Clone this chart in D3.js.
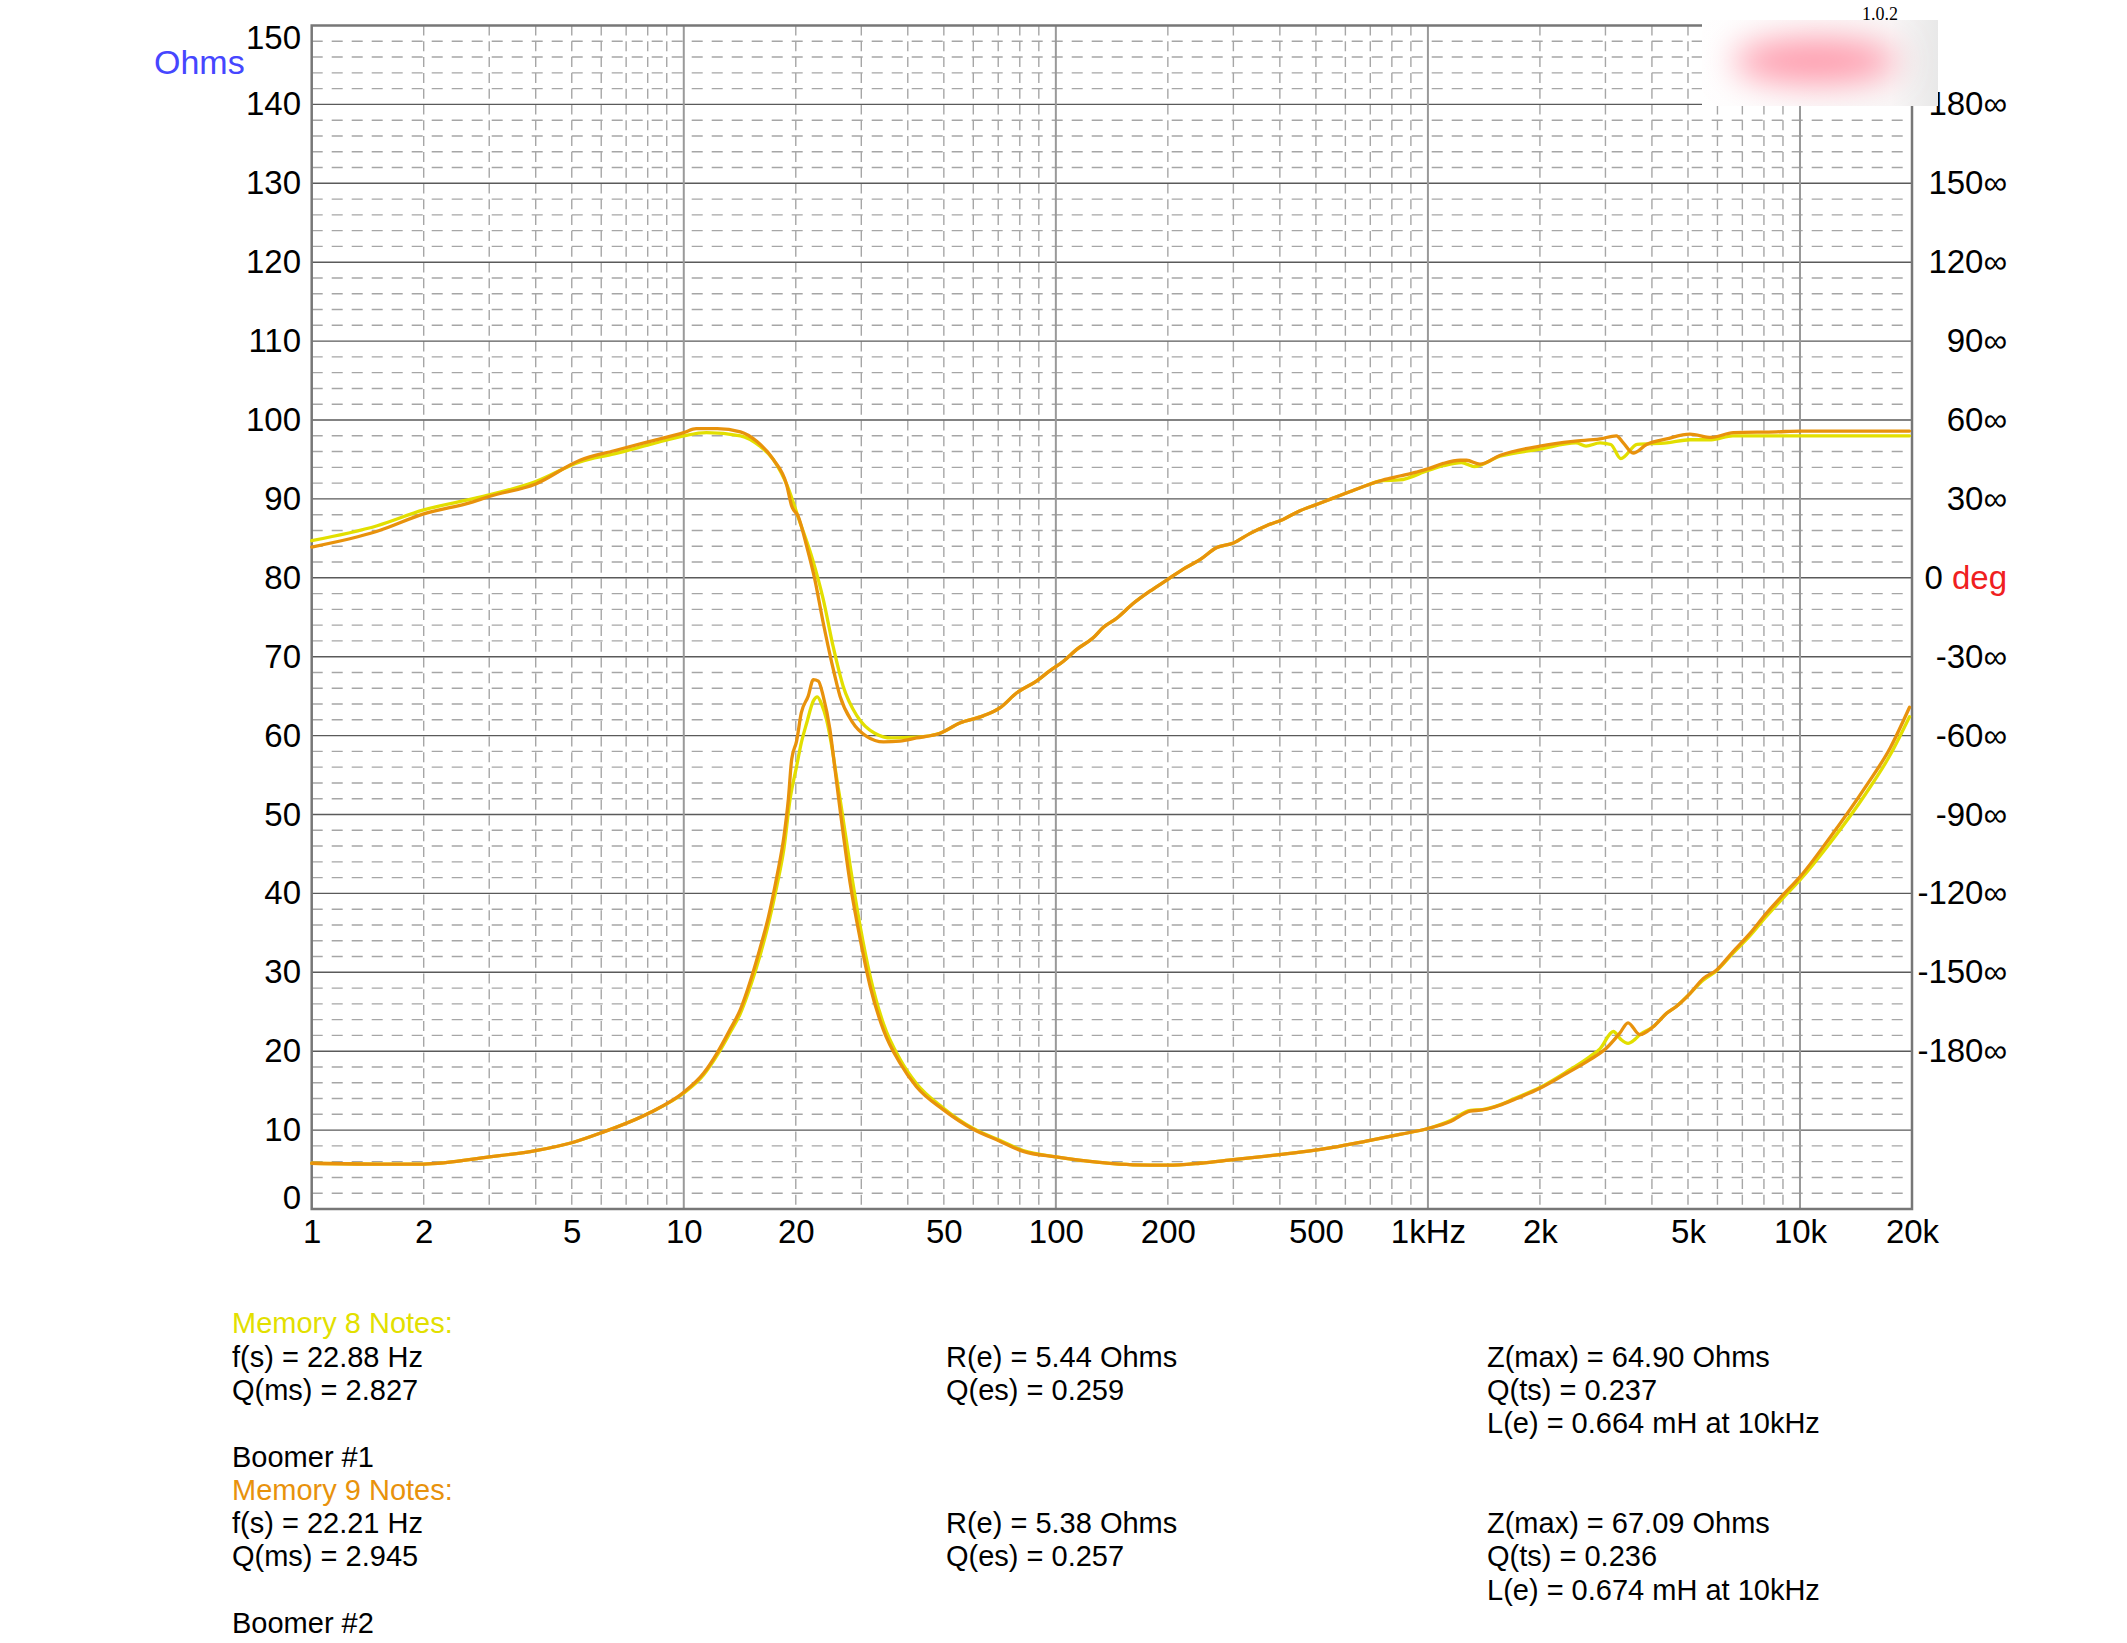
<!DOCTYPE html>
<html><head><meta charset="utf-8">
<script src="https://cdn.jsdelivr.net/npm/d3@7"></script>
<style>body{margin:0;background:#fff}svg{display:block}</style>
</head><body>
<svg id="chart" width="2127" height="1643"></svg>
<script>
// ---------------- data ----------------
const xTicks = [1,2,5,10,20,50,100,200,500,1000,2000,5000,10000,20000];
const xTickLabels = ["1","2","5","10","20","50","100","200","500","1kHz","2k","5k","10k","20k"];
const ohmTicks = [0,10,20,30,40,50,60,70,80,90,100,110,120,130,140,150];
const phaseTicks = [-180,-150,-120,-90,-60,-30,0,30,60,90,120,150,180];

// Memory 8 (yellow) impedance magnitude [Hz, Ohms]
const impedance8 = [[1,5.8],[1.5,5.7],[2,5.7],[3,6.6],[4,7.4],[5,8.4],[5.95,9.6],[8.1,12.2],[10,14.7],[11.3,17.0],[12.3,19.5],[13.3,22.3],[14.2,24.8],[15.1,28.2],[16.0,32.0],[16.9,36.2],[17.8,41.0],[18.6,45.8],[19.3,51.9],[20.1,56.1],[20.7,59.1],[21.4,61.6],[22.3,64.4],[22.85,64.9],[23.5,63.9],[24.2,62.0],[25.0,58.6],[25.8,54.4],[26.4,51.5],[28.0,43.5],[29.8,35.8],[31.7,29.5],[34.4,23.5],[38.1,19.0],[42.2,15.9],[49.8,12.8],[60,10.2],[70.7,8.7],[81.7,7.4],[100,6.6],[131,5.9],[161,5.6],[200,5.55],[244,5.8],[300,6.25],[368,6.7],[453,7.2],[556,7.8],[683,8.6],[840,9.45],[1000,10.2],[1150,11.2],[1300,12.5],[1400,12.6],[1560,13.2],[1690,13.9],[2000,15.4],[2360,17.4],[2720,19.3],[2900,20.3],[3150,22.5],[3300,21.5],[3450,21.0],[3600,21.5],[3710,22.1],[4030,23.1],[4380,24.8],[4660,25.7],[5060,27.3],[5490,29.0],[5970,30.2],[6600,32.4],[7330,34.6],[8130,37.1],[9000,39.4],[10000,41.7],[12000,46.3],[15000,52.6],[17500,57.6],[19700,62.4]];

// Memory 9 (orange) impedance magnitude [Hz, Ohms]
const impedance9 = [[1,5.8],[1.5,5.7],[2,5.7],[3,6.6],[4,7.4],[5,8.4],[5.95,9.6],[8.1,12.2],[10,14.8],[11.3,17.2],[12.3,19.8],[13.3,22.7],[14.2,25.3],[15.1,28.9],[16.0,32.9],[16.9,37.1],[17.8,42.2],[18.6,47.3],[19.1,51.9],[19.5,57.0],[20.1,59.3],[20.7,62.9],[21.6,65.0],[22.3,67.1],[23.0,66.9],[23.7,65.0],[24.7,60.8],[25.5,55.7],[26.1,51.9],[28.0,41.3],[29.8,34.2],[31.7,28.2],[34.4,22.7],[38.1,18.5],[42.2,15.5],[49.8,12.6],[60,10.1],[70.7,8.6],[81.7,7.3],[100,6.6],[131,5.9],[161,5.6],[200,5.55],[244,5.8],[300,6.25],[368,6.7],[453,7.2],[556,7.8],[683,8.6],[840,9.45],[1000,10.2],[1150,11.1],[1300,12.4],[1400,12.55],[1560,13.15],[1690,13.8],[2000,15.3],[2360,17.2],[2720,18.9],[3020,20.4],[3280,22.3],[3450,23.6],[3710,22.1],[4030,23.1],[4380,24.8],[4660,25.7],[5060,27.3],[5490,29.2],[5970,30.3],[6600,32.6],[7330,34.9],[8130,37.5],[9000,39.8],[10000,42.1],[12000,47.0],[15000,53.5],[17500,58.5],[19700,63.6]];

// Memory 8 (yellow) phase [Hz, degrees]
const phase8 = [[1,14.1],[1.5,19.8],[2,25.8],[2.7,30],[3,31.5],[4,36.6],[5.26,44.1],[6.5,47.1],[8.12,50.7],[10,54],[11.5,55.2],[14.2,54],[16.0,50.1],[17.4,45],[19.0,34.8],[20.4,22.2],[22.2,6.9],[23.7,-8.1],[25.2,-26.1],[26.8,-41.1],[29.2,-52.5],[32.6,-59.1],[36.2,-60.9],[42.2,-60.6],[48.8,-59.1],[55.2,-55.2],[63.8,-52.5],[70.7,-49.5],[78.4,-43.8],[88.7,-39.3],[96.3,-35.4],[104.6,-31.8],[113.6,-27.3],[126,-22.8],[134,-18.9],[146,-15.3],[161,-9.9],[179,-5.1],[200,-0.6],[220,3.3],[244,6.9],[270,11.4],[300,13.2],[332,16.8],[368,19.8],[408,22.2],[453,25.5],[502,27.9],[556,30.3],[616,32.7],[683,35.1],[757,37.0],[839,37.2],[1000,40.8],[1100,42.6],[1230,43.8],[1330,42.3],[1560,46.2],[2000,48.9],[2500,51.3],[2660,50.1],[2900,51.3],[3100,50.7],[3300,45.3],[3650,50.7],[4380,51.3],[5060,52.5],[5780,52.5],[6600,54],[8650,54],[19700,54]];

// Memory 9 (orange) phase [Hz, degrees]
const phase9 = [[1,11.7],[1.5,17.7],[2,24.3],[2.7,28.8],[3,30.9],[4,35.7],[5.26,44.7],[6.5,48.3],[8.12,51.9],[10,55.2],[10.8,56.7],[12.3,56.7],[14.2,55.5],[15.7,51.9],[17.4,45],[18.9,35.4],[19.5,27.3],[20.3,23.4],[21.4,12],[22.5,-0.6],[23.7,-17.1],[25,-32.4],[26.3,-45],[28.3,-54.6],[31,-60.3],[34.4,-62.4],[38.1,-62.1],[42.2,-60.9],[48.8,-59.1],[55.2,-55.2],[63.8,-52.5],[70.7,-49.5],[78.4,-43.8],[88.7,-39.3],[96.3,-35.4],[104.6,-31.8],[113.6,-27.3],[126,-22.8],[134,-18.9],[146,-15.3],[161,-9.9],[179,-5.1],[200,-0.6],[220,3.3],[244,6.9],[270,11.4],[300,13.2],[332,16.8],[368,19.8],[408,22.2],[453,25.5],[502,27.9],[556,30.3],[616,32.7],[683,35.1],[757,37.2],[840,38.7],[931,40.2],[1000,41.4],[1100,43.5],[1220,44.7],[1270,44.7],[1380,43.2],[1560,46.5],[2000,50.1],[2455,51.9],[2900,52.8],[3210,54],[3350,51.3],[3560,47.4],[3870,50.7],[4380,52.8],[5060,54.6],[5780,53.4],[6620,55.2],[8650,55.5],[10000,55.8],[19700,55.8]];

// notes text: [row, text, colour key]
const notesLeft = [[0,"Memory 8 Notes:","m8"],[1,"f(s) = 22.88 Hz"],[2,"Q(ms) = 2.827"],[4,"Boomer #1"],[5,"Memory 9 Notes:","m9"],[6,"f(s) = 22.21 Hz"],[7,"Q(ms) = 2.945"],[9,"Boomer #2"]];
const notesMid = [[1,"R(e) = 5.44 Ohms"],[2,"Q(es) = 0.259"],[6,"R(e) = 5.38 Ohms"],[7,"Q(es) = 0.257"]];
const notesRight = [[1,"Z(max) = 64.90 Ohms"],[2,"Q(ts) = 0.237"],[3,"L(e) = 0.664 mH at 10kHz"],[6,"Z(max) = 67.09 Ohms"],[7,"Q(ts) = 0.236"],[8,"L(e) = 0.674 mH at 10kHz"]];

// ---------------- drawing ----------------
const FONT = "'Liberation Sans', Arial, Helvetica, sans-serif";
const COL8 = "#e2df00", COL9 = "#e8920c";
const svg = d3.select("#chart");
const W = 2127, H = 1643;
const L = 311.7, R = 1912, T = 25.5, B = 1209;

const x = d3.scaleLog().domain([1, 20000]).range([L, R]);
const y = d3.scaleLinear().domain([0, 150]).range([B, T]);
const yp = d3.scaleLinear().domain([-240, 210]).range([B, T]);

svg.append("rect").attr("width", W).attr("height", H).attr("fill", "#fff");

const grid = svg.append("g");
const minorY = d3.range(2, 150, 2).filter(v => v % 10 !== 0);
grid.selectAll("line.hmin").data(minorY).join("line")
  .attr("x1", L).attr("x2", R).attr("y1", d => y(d)).attr("y2", d => y(d))
  .attr("stroke", "#a6a6a6").attr("stroke-width", 1.4).attr("stroke-dasharray", "11,9");
const minorX = [];
[1, 10, 100, 1000].forEach(dec => { for (let m = 2; m <= 9; m++) minorX.push(dec * m); });
grid.selectAll("line.vmin").data(minorX).join("line")
  .attr("x1", d => x(d)).attr("x2", d => x(d)).attr("y1", T).attr("y2", B)
  .attr("stroke", "#a6a6a6").attr("stroke-width", 1.4).attr("stroke-dasharray", "10,5.8");
grid.selectAll("line.hmaj").data(d3.range(10, 150, 10)).join("line")
  .attr("x1", L).attr("x2", R).attr("y1", d => y(d)).attr("y2", d => y(d))
  .attr("stroke", "#5a5a5a").attr("stroke-width", 1.4);
grid.selectAll("line.vmaj").data([10, 100, 1000, 10000]).join("line")
  .attr("x1", d => x(d)).attr("x2", d => x(d)).attr("y1", T).attr("y2", B)
  .attr("stroke", "#999").attr("stroke-width", 2);
svg.append("rect").attr("x", L).attr("y", T).attr("width", R - L).attr("height", B - T)
  .attr("fill", "none").attr("stroke", "#777").attr("stroke-width", 2.5);

// curves
const lineZ = d3.line().x(d => x(d[0])).y(d => y(d[1])).curve(d3.curveMonotoneX);
const lineP = d3.line().x(d => x(d[0])).y(d => yp(d[1])).curve(d3.curveMonotoneX);
const curves = svg.append("g").attr("fill", "none").attr("stroke-width", 3.3)
  .attr("stroke-linejoin", "round").attr("stroke-linecap", "round");
curves.append("path").attr("d", lineZ(impedance8)).attr("stroke", COL8);
curves.append("path").attr("d", lineP(phase8)).attr("stroke", COL8);
curves.append("path").attr("d", lineZ(impedance9)).attr("stroke", COL9);
curves.append("path").attr("d", lineP(phase9)).attr("stroke", COL9);

// left axis
const gY = svg.append("g").attr("transform", `translate(${L},0)`)
  .call(d3.axisLeft(y).tickValues(ohmTicks).tickSize(0).tickPadding(10.7));
gY.select(".domain").remove();
gY.attr("font-size", 33).attr("font-family", FONT);
gY.selectAll("text").attr("fill", "#000")
  .attr("y", d => d === 150 ? 12.5 : (d === 0 ? -11 : 0));

// bottom axis
const gX = svg.append("g").attr("transform", `translate(0,${B})`)
  .call(d3.axisBottom(x).tickValues(xTicks).tickFormat((d, i) => xTickLabels[i]).tickSize(0).tickPadding(11));
gX.select(".domain").remove();
gX.attr("font-size", 33).attr("font-family", FONT);
gX.selectAll("text").attr("fill", "#000");

// right axis (phase)
const gR = svg.append("g").attr("transform", `translate(${R},0)`)
  .call(d3.axisRight(yp).tickValues(phaseTicks).tickSize(0).tickPadding(95)
    .tickFormat(d => d === 0 ? "0 " : d + "\u221E"));
gR.select(".domain").remove();
gR.attr("font-size", 33).attr("font-family", FONT);
gR.selectAll("text").attr("fill", "#000").attr("text-anchor", "end").style("white-space", "pre");
gR.selectAll(".tick").filter(d => d === 0).select("text")
  .append("tspan").attr("fill", "#f02020").text("deg");

// Ohms label
svg.append("text").attr("x", 154).attr("y", 74).attr("font-family", FONT).attr("font-size", 34)
  .attr("fill", "#4646ff").text("Ohms");

// blurred pink box (top right)
const defs = svg.append("defs");
const g1 = defs.append("linearGradient").attr("id", "boxg").attr("x1", 0).attr("x2", 1).attr("y1", 0).attr("y2", 0);
g1.append("stop").attr("offset", 0).attr("stop-color", "#ffffff");
g1.append("stop").attr("offset", 0.8).attr("stop-color", "#f9f7f7");
g1.append("stop").attr("offset", 1).attr("stop-color", "#e8e8e8");
defs.append("filter").attr("id", "blur").attr("x", "-60%").attr("y", "-150%").attr("width", "220%").attr("height", "400%")
  .append("feGaussianBlur").attr("stdDeviation", 17);
defs.append("clipPath").attr("id", "boxclip").append("rect")
  .attr("x", 1702).attr("y", 20).attr("width", 236).attr("height", 86);
const box = svg.append("g").attr("clip-path", "url(#boxclip)");
box.append("rect").attr("x", 1702).attr("y", 20).attr("width", 236).attr("height", 86).attr("fill", "url(#boxg)");
box.append("ellipse").attr("cx", 1815).attr("cy", 61).attr("rx", 82).attr("ry", 22)
  .attr("fill", "#ff98aa").attr("filter", "url(#blur)");
svg.append("text").attr("x", 1862).attr("y", 20).attr("font-family", "'Liberation Serif', 'Times New Roman', serif")
  .attr("font-size", 18).attr("fill", "#000").text("1.0.2");

// notes
function notes(data, xPos) {
  svg.append("g").attr("font-family", FONT).attr("font-size", 29)
    .selectAll("text").data(data).join("text")
    .attr("x", xPos).attr("y", d => 1333.3 + 33.3 * d[0])
    .attr("fill", d => d[2] === "m8" ? COL8 : (d[2] === "m9" ? COL9 : "#000"))
    .text(d => d[1]);
}
notes(notesLeft, 232);
notes(notesMid, 946);
notes(notesRight, 1487);
</script>
</body></html>
